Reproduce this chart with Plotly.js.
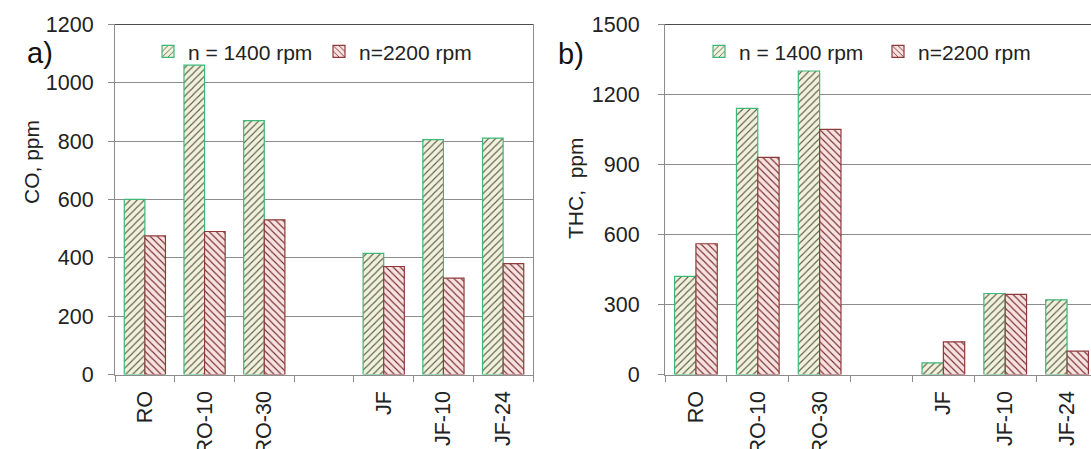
<!DOCTYPE html>
<html>
<head>
<meta charset="utf-8">
<script src="https://cdn.plot.ly/plotly-3.0.1.min.js"></script>
<style>
html,body{margin:0;padding:0;overflow:hidden;background:#fff;}
#chart{width:1100px;height:449px;}
</style>
</head>
<body>
<div id="chart"></div>
<script>
// ---- data ----
const categories = ['RO', 'RO-10', 'RO-30', ' ', 'JF', 'JF-10', 'JF-24'];
const seriesNames = ['n = 1400 rpm', 'n=2200 rpm'];
const co1400 = [600, 1060, 870, null, 415, 805, 810];
const co2200 = [475, 490, 530, null, 370, 330, 380];
const thc1400 = [420, 1140, 1300, null, 50, 347, 320];
const thc2200 = [560, 930, 1050, null, 140, 343, 100];
const coTicks = [0, 200, 400, 600, 800, 1000, 1200];
const thcTicks = [0, 300, 600, 900, 1200, 1500];

// ---- styles ----
const W = 1100, H = 449;
const FONT = 'Liberation Sans, Arial, sans-serif';
const TXT = '#222';
const GRID = '#8c8c8c';
const px = v => v / W;
const py = v => 1 - v / H;

const greenMarker = {
  color: '#f1f2dc',
  line: {color: '#3cb878', width: 1.2},
  pattern: {shape: '/', fgcolor: '#5e5e4c', bgcolor: '#f1f2dc', size: 5, solidity: 0.22, fillmode: 'replace'}
};
const redMarker = {
  color: '#f7e2e2',
  line: {color: '#8e3a3a', width: 1.2},
  pattern: {shape: '\\', fgcolor: '#7a2c2c', bgcolor: '#f7e2e2', size: 5, solidity: 0.22, fillmode: 'replace'}
};

const traces = [
  {type: 'bar', x: categories, y: co1400, name: seriesNames[0], marker: greenMarker, xaxis: 'x', yaxis: 'y', legend: 'legend'},
  {type: 'bar', x: categories, y: co2200, name: seriesNames[1], marker: redMarker, xaxis: 'x', yaxis: 'y', legend: 'legend'},
  {type: 'bar', x: categories, y: thc1400, name: seriesNames[0], marker: greenMarker, xaxis: 'x2', yaxis: 'y2', legend: 'legend2'},
  {type: 'bar', x: categories, y: thc2200, name: seriesNames[1], marker: redMarker, xaxis: 'x2', yaxis: 'y2', legend: 'legend2'}
];

const yDom = [1 - 374.5 / H, 1 - 24.3 / H];

function xAxis(dom, anchor) {
  return {
    domain: dom, anchor: anchor,
    type: 'category', categoryorder: 'array', categoryarray: categories,
    tickson: 'boundaries', ticks: 'outside', ticklen: 6, tickcolor: GRID, tickwidth: 1,
    showline: true, linecolor: GRID, linewidth: 1,
    showgrid: false, zeroline: false,
    tickangle: -90, ticklabelstandoff: 7,
    tickfont: {family: FONT, size: 21.5, color: TXT},
    fixedrange: true
  };
}
function yAxis(range, ticks, anchor, standoff) {
  return {
    domain: yDom, anchor: anchor, range: range,
    tickvals: ticks, ticktext: ticks.map(String),
    ticks: 'outside', ticklen: 6, tickcolor: GRID, tickwidth: 1,
    showline: true, linecolor: GRID, linewidth: 1, mirror: true,
    showgrid: true, gridcolor: GRID, gridwidth: 1,
    zeroline: false, ticklabelstandoff: standoff,
    tickfont: {family: FONT, size: 21.5, color: TXT},
    fixedrange: true
  };
}

const layout = {
  width: W, height: H,
  margin: {l: 0, r: 0, t: 0, b: 0},
  paper_bgcolor: '#fff', plot_bgcolor: '#fff',
  barmode: 'group', bargap: 0.31, bargroupgap: 0,
  showlegend: true,
  font: {family: FONT, size: 21, color: TXT},
  xaxis: xAxis([px(115), px(533)], 'y'),
  yaxis: yAxis([0, 1200], coTicks, 'x', 10),
  xaxis2: xAxis([px(665), px(1098)], 'y2'),
  yaxis2: yAxis([0, 1500], thcTicks, 'x2', 14),
  legend: {
    orientation: 'h', x: px(148), xanchor: 'left', y: py(51.7), yanchor: 'middle',
    bgcolor: 'rgba(0,0,0,0)', borderwidth: 0, font: {family: FONT, size: 21, color: TXT},
    itemwidth: 30, traceorder: 'normal', entrywidth: 126, entrywidthmode: 'pixels'
  },
  legend2: {
    orientation: 'h', x: px(699), xanchor: 'left', y: py(51.7), yanchor: 'middle',
    bgcolor: 'rgba(0,0,0,0)', borderwidth: 0, font: {family: FONT, size: 21, color: TXT},
    itemwidth: 30, traceorder: 'normal', entrywidth: 134, entrywidthmode: 'pixels'
  },
  shapes: [
    {type: 'line', xref: 'x domain', yref: 'y', x0: 0, x1: 1, y0: 1200, y1: 1200, line: {color: '#111', width: 1.3}},
    {type: 'line', xref: 'x2 domain', yref: 'y2', x0: 0, x1: 1, y0: 1500, y1: 1500, line: {color: '#111', width: 1.3}}
  ],
  annotations: [
    {text: 'a)', xref: 'paper', yref: 'paper', x: px(25), y: py(35), showarrow: false, font: {family: FONT, size: 29, color: '#111'}},
    {text: 'b)', xref: 'paper', yref: 'paper', x: px(571), y: py(36), showarrow: false, font: {family: FONT, size: 29, color: '#111'}},
    {text: 'CO, ppm', xref: 'paper', yref: 'paper', x: px(18), y: py(162.5), textangle: -90, showarrow: false, font: {family: FONT, size: 21, color: TXT}},
    {text: 'THC,\u00a0 ppm', xref: 'paper', yref: 'paper', x: px(575), y: py(188), textangle: -90, showarrow: false, font: {family: FONT, size: 21, color: TXT}}
  ]
};

Plotly.newPlot('chart', traces, layout, {staticPlot: true, displayModeBar: false});
</script>
</body>
</html>
